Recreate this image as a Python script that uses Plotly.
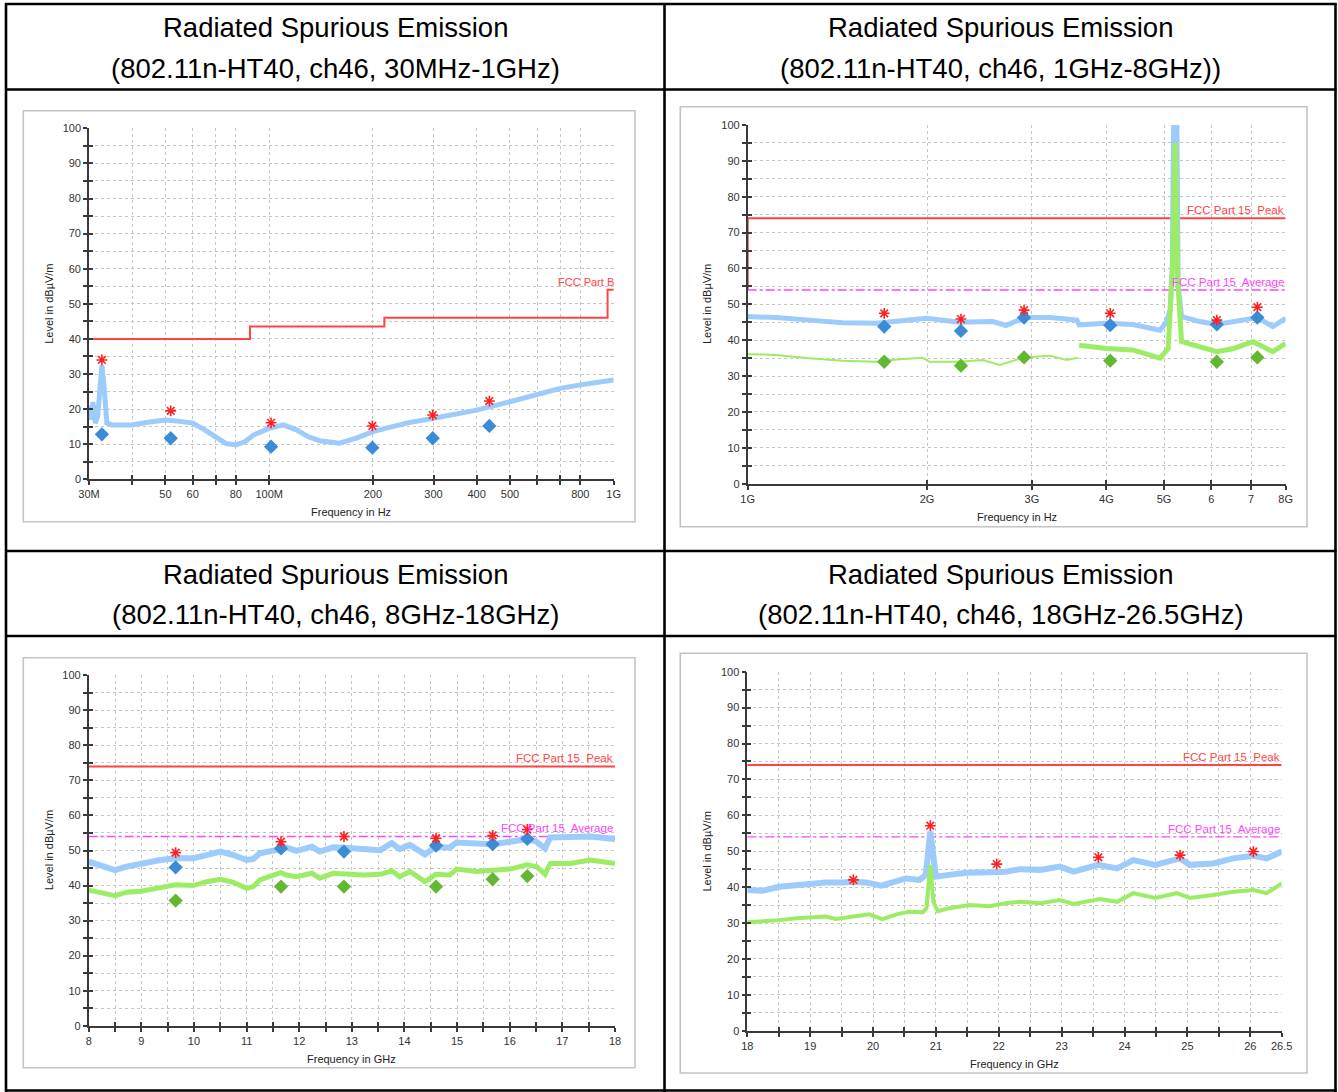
import numpy as np
import plotly.graph_objects as go

W, H = 1338, 1092

# ---------------- Panel 1 : 30 MHz - 1 GHz (MHz) ----------------
p1_freq = [30, 30.4, 30.8, 31.3, 31.8, 32.3, 32.7, 33.2, 33.8, 35, 37, 40, 45, 50, 55, 60, 65, 70, 75, 80,
           85, 90, 100, 110, 120, 130, 140, 160, 180, 200, 250, 300, 350, 400, 500, 600, 700, 800, 900, 1000]
p1_peak = [21, 17, 22, 16, 18, 27, 32.5, 26, 16, 15.5, 15.5, 15.5, 16.3, 16.9, 16.5, 16.0, 14.1, 12.1, 10.2, 9.8,
           10.7, 12.6, 14.5, 15.5, 14.1, 12.1, 11.0, 10.3, 11.8, 13.6, 16.0, 17.4, 18.5, 19.7, 22.1, 24.0, 25.9, 26.9, 27.6, 28.3]
p1_limit_f = [30, 88, 88, 216, 216, 960, 960, 1000]
p1_limit_v = [40, 40, 43.5, 43.5, 46, 46, 54, 54]
p1_mark_f = [32.7, 51.8, 101.3, 199.3, 298.4, 435.6]
p1_mark_pk = [34.0, 19.5, 16.1, 15.2, 18.3, 22.3]
p1_mark_qp = [12.8, 11.7, 9.3, 9.0, 11.7, 15.2]
p1_ticks = [30, 40, 50, 60, 70, 80, 100, 200, 300, 400, 500, 600, 700, 800, 1000]
p1_ticktext = ["30M", "", "50", "60", "", "80", "100M", "200", "300", "400", "500", "", "", "800", "1G"]

# ---------------- Panel 2 : 1 GHz - 8 GHz (GHz) ----------------
p2_freq = [1.0, 1.116, 1.269, 1.443, 1.642, 1.867, 2.0, 2.266, 2.578, 2.715, 2.91, 3.218, 3.57, 3.6, 4.0, 4.43,
           4.92, 5.05, 5.12, 5.16, 5.19, 5.25, 5.28, 5.35, 5.74, 6.13, 6.54, 7.17, 7.61, 8.0]
p2_peak = [46.6, 46.3, 45.6, 44.9, 44.7, 45.6, 46.1, 45.0, 45.2, 44.1, 46.3, 46.3, 45.6, 44.3, 44.7, 44.4,
           42.8, 45.2, 48.5, 60, 105, 105, 55, 46.6, 45.2, 44.4, 45.2, 46.3, 43.8, 46.1]
p2_avg_lo_f = [1.0, 1.116, 1.269, 1.443, 1.642, 1.8, 1.968, 2.018, 2.266, 2.48, 2.65, 2.91, 3.218, 3.43, 3.58]
p2_avg_lo_v = [36.1, 35.9, 35.0, 34.3, 34.0, 34.7, 35.1, 34.0, 34.0, 34.5, 33.1, 35.2, 35.7, 34.5, 35.1]
p2_avg_hi_f = [3.6, 4.0, 4.43, 4.92, 5.08, 5.17, 5.22, 5.27, 5.35, 5.74, 6.13, 6.54, 7.05, 7.61, 8.0]
p2_avg_hi_v = [38.6, 37.7, 37.3, 35.0, 37.7, 61.9, 95, 56.3, 39.6, 38.2, 36.8, 37.7, 39.6, 36.8, 39.1]
p2_mark_f = [1.695, 2.28, 2.91, 4.06, 6.13, 7.17]
p2_mark_pk = [47.5, 45.9, 48.4, 47.5, 45.6, 49.2]
p2_mark_fpk = [43.8, 42.6, 46.3, 44.2, 44.4, 46.3]
p2_mark_fav = [34.0, 32.9, 35.2, 34.3, 34.0, 35.2]
p2_ticks = [1, 2, 3, 4, 5, 6, 7, 8]
p2_ticktext = ["1G", "2G", "3G", "4G", "5G", "6", "7", "8G"]

# ---------------- Panel 3 : 8 GHz - 18 GHz ----------------
p3_freq = [8.0, 8.22, 8.5, 8.72, 8.99, 9.36, 9.65, 9.99, 10.24, 10.5, 10.75, 11.0, 11.13, 11.25, 11.65, 11.76,
           11.95, 12.24, 12.39, 12.65, 12.85, 13.22, 13.54, 13.76, 13.91, 14.1, 14.39, 14.6, 14.86, 14.99, 15.37,
           15.68, 16.0, 16.33, 16.51, 16.67, 16.77, 17.15, 17.53, 18.0]
p3_peak = [46.8, 45.9, 44.4, 45.4, 46.3, 47.3, 47.8, 47.8, 48.7, 49.7, 48.7, 47.3, 47.6, 49.2, 50.4, 50.8,
           49.9, 51.1, 49.7, 50.9, 50.8, 50.4, 50.1, 52.1, 50.4, 51.6, 48.9, 51.1, 50.8, 52.3, 51.8,
           51.8, 52.5, 53.3, 52.5, 50.6, 53.7, 54.0, 54.0, 53.3]
p3_avg = [38.7, 38.1, 37.1, 38.1, 38.4, 39.4, 40.2, 40.0, 41.1, 41.8, 40.9, 39.2, 39.7, 41.6, 43.7, 43.0,
          42.5, 43.5, 42.1, 43.5, 43.2, 43.0, 43.2, 44.2, 42.5, 44.0, 41.1, 43.2, 43.0, 44.7, 44.0,
          44.4, 44.7, 45.9, 45.4, 43.2, 46.3, 46.3, 47.3, 46.3]
p3_mark_f = [9.652, 11.654, 12.85, 14.6, 15.675, 16.334]
p3_mark_pk = [49.4, 52.5, 54.0, 53.5, 54.3, 56.0]
p3_mark_fpk = [45.2, 50.6, 49.7, 51.4, 51.8, 53.3]
p3_mark_fav = [35.7, 39.7, 39.7, 39.7, 41.8, 42.7]

# ---------------- Panel 4 : 18 GHz - 26.5 GHz ----------------
p4_freq = [18.0, 18.24, 18.51, 18.78, 19.0, 19.25, 19.52, 19.69, 19.89, 20.13, 20.31, 20.52, 20.74, 20.84,
           20.91, 20.95, 21.0, 21.21, 21.48, 21.74, 22.11, 22.34, 22.66, 22.97, 23.19, 23.58, 23.88, 24.14,
           24.49, 24.88, 25.04, 25.41, 25.73, 26.05, 26.26, 26.5]
p4_peak = [39.2, 39.0, 40.1, 40.6, 40.8, 41.3, 41.3, 41.5, 41.3, 40.4, 41.3, 42.4, 42.0, 43.4,
           55.5, 49.9, 42.9, 43.4, 44.0, 44.1, 44.3, 45.0, 44.8, 45.7, 44.3, 46.2, 45.2, 47.5,
           46.2, 48.0, 46.2, 46.6, 48.0, 48.7, 48.0, 49.9]
p4_avg_f = [18.0, 18.24, 18.51, 18.78, 19.0, 19.25, 19.41, 19.68, 19.94, 20.15, 20.37, 20.58, 20.79, 20.85,
            20.91, 20.96, 21.03, 21.21, 21.53, 21.85, 22.11, 22.34, 22.66, 22.97, 23.19, 23.61, 23.88, 24.14,
            24.49, 24.83, 25.04, 25.41, 25.73, 26.05, 26.26, 26.5]
p4_avg = [30.2, 30.4, 30.8, 31.3, 31.5, 31.8, 31.1, 31.8, 32.4, 31.1, 32.4, 33.1, 33.0, 34.1,
          46.2, 35.9, 33.3, 34.1, 35.0, 34.7, 35.5, 35.9, 35.5, 36.4, 35.3, 36.7, 35.9, 38.3,
          37.0, 38.3, 37.0, 37.8, 38.7, 39.2, 38.3, 41.0]
p4_mark_f = [19.687, 20.911, 21.967, 23.584, 24.883, 26.049]
p4_mark_pk = [42.0, 57.1, 46.4, 48.3, 48.9, 49.9]

# limits (dBuV/m)
fcc15_peak = 74
fcc15_avg = 54

headers = [
    ("Radiated Spurious Emission", "(802.11n-HT40, ch46, 30MHz-1GHz)"),
    ("Radiated Spurious Emission", "(802.11n-HT40, ch46, 1GHz-8GHz))"),
    ("Radiated Spurious Emission", "(802.11n-HT40, ch46, 8GHz-18GHz)"),
    ("Radiated Spurious Emission", "(802.11n-HT40, ch46, 18GHz-26.5GHz)"),
]
xtitles = ["Frequency in Hz", "Frequency in Hz", "Frequency in GHz", "Frequency in GHz"]
ytitle = "Level in dB\u00b5V/m"

# ---------------- styling ----------------
FONT = "Liberation Sans, Arial, sans-serif"
C_BLUE = "#9dcbfb"
C_GREEN = "#9cec66"
C_DBLUE = "#3a8cd6"
C_DGREEN = "#62b830"
C_RED = "#ff4444"
C_STAR = "#ff2020"
C_MAG = "#ff44ff"
AX = "#3a3a3a"
GRID = "#c6c6c6"


def px(x):
    return x / W


def py(y):
    return 1 - y / H


# plot areas in pixels: (x0, x1, ytop, ybottom)
areas = [
    (89.0, 613.7, 128.3, 479.3),
    (747.7, 1285.7, 125.0, 483.7),
    (88.7, 615.0, 675.3, 1025.7),
    (747.3, 1281.7, 671.7, 1030.7),
]
frames = [
    (23.3, 635.0, 110.7, 521.7),
    (680.3, 1307.0, 106.7, 526.7),
    (23.3, 635.0, 657.7, 1067.7),
    (680.3, 1307.0, 653.3, 1073.0),
]

yt = list(range(0, 101, 5))
ytt = [str(v) if v % 10 == 0 else "" for v in yt]
p3_ticks = [8 + 0.5 * i for i in range(21)]
p3_ticktext = [str(int(v)) if v == int(v) else "" for v in p3_ticks]
p4_ticks = [18 + 0.5 * i for i in range(18)]
p4_ticktext = [str(int(v)) if v == int(v) else "" for v in p4_ticks]
p4_ticktext[-1] = "26.5"

xspec = [
    ("log", [np.log10(30), np.log10(1000)], p1_ticks, p1_ticktext),
    ("log", [0, np.log10(8)], p2_ticks, p2_ticktext),
    ("linear", [8, 18], p3_ticks, p3_ticktext),
    ("linear", [18, 26.5], p4_ticks, p4_ticktext),
]

fig = go.Figure()


def ax_id(i):
    return "" if i == 1 else str(i)


def add_line(i, x, y, color, width, dash="solid"):
    fig.add_trace(go.Scatter(x=x, y=y, mode="lines", line=dict(color=color, width=width, dash=dash),
                             xaxis="x" + ax_id(i), yaxis="y" + ax_id(i), showlegend=False, hoverinfo="skip"))


def add_marks(i, x, y, symbol, color, size, lw=0):
    if symbol.startswith("asterisk"):
        mk = dict(symbol=symbol, size=size, color=color, line=dict(color=color, width=lw))
    else:
        mk = dict(symbol=symbol, size=size, color=color, line=dict(width=0))
    fig.add_trace(go.Scatter(x=x, y=y, mode="markers", marker=mk, xaxis="x" + ax_id(i),
                             yaxis="y" + ax_id(i), showlegend=False, hoverinfo="skip"))


# Panel 1
add_line(1, p1_limit_f, p1_limit_v, C_RED, 2)
add_line(1, p1_freq, p1_peak, C_BLUE, 5)
add_marks(1, p1_mark_f, p1_mark_qp, "diamond", C_DBLUE, 11)
add_marks(1, p1_mark_f, p1_mark_pk, "asterisk-open", C_STAR, 9, 1.6)

# Panel 2
add_line(2, [1, 1, 8], [fcc15_avg, fcc15_peak, fcc15_peak], C_RED, 2)
add_line(2, [1, 8], [fcc15_avg, fcc15_avg], C_MAG, 1.4, "dashdot")
add_line(2, p2_freq, p2_peak, C_BLUE, 5)
add_line(2, p2_avg_lo_f, p2_avg_lo_v, C_GREEN, 2)
add_line(2, p2_avg_hi_f, p2_avg_hi_v, C_GREEN, 5)
add_marks(2, p2_mark_f, p2_mark_fav, "diamond", C_DGREEN, 11)
add_marks(2, p2_mark_f, p2_mark_fpk, "diamond", C_DBLUE, 11)
add_marks(2, p2_mark_f, p2_mark_pk, "asterisk-open", C_STAR, 9, 1.6)

# Panel 3
add_line(3, [8, 18], [fcc15_peak, fcc15_peak], C_RED, 2)
add_line(3, [8, 18], [fcc15_avg, fcc15_avg], C_MAG, 1.4, "dashdot")
add_line(3, p3_freq, p3_peak, C_BLUE, 6)
add_line(3, p3_freq, p3_avg, C_GREEN, 5)
add_marks(3, p3_mark_f, p3_mark_fav, "diamond", C_DGREEN, 11)
add_marks(3, p3_mark_f, p3_mark_fpk, "diamond", C_DBLUE, 11)
add_marks(3, p3_mark_f, p3_mark_pk, "asterisk-open", C_STAR, 9, 1.6)

# Panel 4
add_line(4, [18, 26.5], [fcc15_peak, fcc15_peak], C_RED, 2)
add_line(4, [18, 26.5], [fcc15_avg, fcc15_avg], C_MAG, 1.4, "dashdot")
add_line(4, p4_freq, p4_peak, C_BLUE, 6)
add_line(4, p4_avg_f, p4_avg, C_GREEN, 4)
add_marks(4, p4_mark_f, p4_mark_pk, "asterisk-open", C_STAR, 9, 1.6)

layout = dict(
    width=W, height=H, margin=dict(l=0, r=0, t=0, b=0, pad=0, autoexpand=False),
    paper_bgcolor="white", plot_bgcolor="white", showlegend=False,
    font=dict(family=FONT, size=11, color="#222"),
)

shapes = []
annotations = []

for k in range(4):
    i = k + 1
    x0, x1, ytop, ybot = areas[k]
    typ, rng, tv, tt = xspec[k]
    common = dict(ticks="outside", ticklen=4, tickwidth=1.5, tickcolor=AX,
                  showline=True, linecolor=AX, linewidth=1.6, showgrid=True,
                  gridcolor=GRID, griddash="dot", gridwidth=1, zeroline=False,
                  tickfont=dict(family=FONT, size=11, color="#333"), fixedrange=True,
                  layer="above traces", automargin=False)
    layout["xaxis" + ax_id(i)] = dict(domain=[px(x0), px(x1)], anchor="y" + ax_id(i), type=typ,
                                      range=rng, tickmode="array", tickvals=tv, ticktext=tt, **common)
    layout["yaxis" + ax_id(i)] = dict(domain=[py(ybot), py(ytop)], anchor="x" + ax_id(i), range=[0, 100],
                                      tickmode="array", tickvals=yt, ticktext=ytt, **common)
    # overlay axes providing the inner half of the crossing tick marks
    ox, oy = str(i + 4), str(i + 4)
    inner = dict(ticks="inside", ticklen=4, tickwidth=1.5, tickcolor=AX, showticklabels=False,
                 showgrid=False, showline=False, zeroline=False, fixedrange=True, automargin=False)
    layout["xaxis" + ox] = dict(overlaying="x" + ax_id(i), anchor="y" + ax_id(i), type=typ, range=rng,
                                tickmode="array", tickvals=tv, **inner)
    layout["yaxis" + oy] = dict(overlaying="y" + ax_id(i), anchor="x" + ax_id(i), range=[0, 100],
                                tickmode="array", tickvals=yt, side="left", **inner)
    fig.add_trace(go.Scatter(x=[tv[0]], y=[0], mode="markers", marker=dict(opacity=0),
                             xaxis="x" + ox, yaxis="y" + ax_id(i), showlegend=False, hoverinfo="skip"))
    fig.add_trace(go.Scatter(x=[tv[0]], y=[0], mode="markers", marker=dict(opacity=0),
                             xaxis="x" + ax_id(i), yaxis="y" + oy, showlegend=False, hoverinfo="skip"))

    # chart frame
    fx0, fx1, fy0, fy1 = frames[k]
    shapes.append(dict(type="rect", xref="paper", yref="paper", x0=px(fx0), x1=px(fx1),
                       y0=py(fy1), y1=py(fy0), line=dict(color="#c4c4c4", width=1.6), layer="below"))
    # axis titles
    annotations.append(dict(text=ytitle, xref="paper", yref="paper", x=px(x0 - 40), y=py((ytop + ybot) / 2),
                            textangle=-90, showarrow=False, font=dict(size=11, color="#222"),
                            xanchor="center", yanchor="middle"))
    annotations.append(dict(text=xtitles[k], xref="paper", yref="paper", x=px((x0 + x1) / 2),
                            y=py(ybot + 33), showarrow=False,
                            font=dict(size=11, color="#222"), xanchor="center", yanchor="middle"))

# limit labels
annotations.append(dict(text="FCC Part B", xref="x", yref="y", x=3, y=54, xanchor="right", yanchor="bottom",
                        showarrow=False, font=dict(size=11, color=C_RED), xshift=2, yshift=0))
for i, xr in [(2, np.log10(8)), (3, 18), (4, 26.5)]:
    annotations.append(dict(text="FCC Part 15\u00a0 Peak", xref="x" + ax_id(i), yref="y" + ax_id(i), x=xr,
                            y=fcc15_peak, xanchor="right", yanchor="bottom", showarrow=False,
                            font=dict(size=11.5, color=C_RED), yshift=0))
    annotations.append(dict(text="FCC Part 15\u00a0 Average", xref="x" + ax_id(i), yref="y" + ax_id(i), x=xr,
                            y=fcc15_avg, xanchor="right", yanchor="bottom", showarrow=False,
                            font=dict(size=11.5, color=C_MAG), yshift=0))

# table grid
LW = 2.6
for yv in [4, 89.5, 551, 636, 1090.5]:
    shapes.append(dict(type="line", xref="paper", yref="paper", x0=px(5), x1=px(1336.5), y0=py(yv), y1=py(yv),
                       line=dict(color="black", width=LW)))
for xv in [6, 664.5, 1335.5]:
    shapes.append(dict(type="line", xref="paper", yref="paper", x0=px(xv), x1=px(xv), y0=py(3), y1=py(1092),
                       line=dict(color="black", width=LW)))

# header texts
cols = [335.5, 1000.5]
rows = [(27, 68), (574, 614)]
for k, (l1, l2) in enumerate(headers):
    cx = cols[k % 2]
    r1, r2 = rows[k // 2]
    for txt, yy in [(l1, r1), (l2, r2)]:
        annotations.append(dict(text=txt, xref="paper", yref="paper", x=px(cx), y=py(yy), showarrow=False,
                                font=dict(family=FONT, size=27.5, color="black"),
                                xanchor="center", yanchor="middle"))

layout["shapes"] = shapes
layout["annotations"] = annotations
fig.update_layout(**layout)
fig.write_html("out.html")
